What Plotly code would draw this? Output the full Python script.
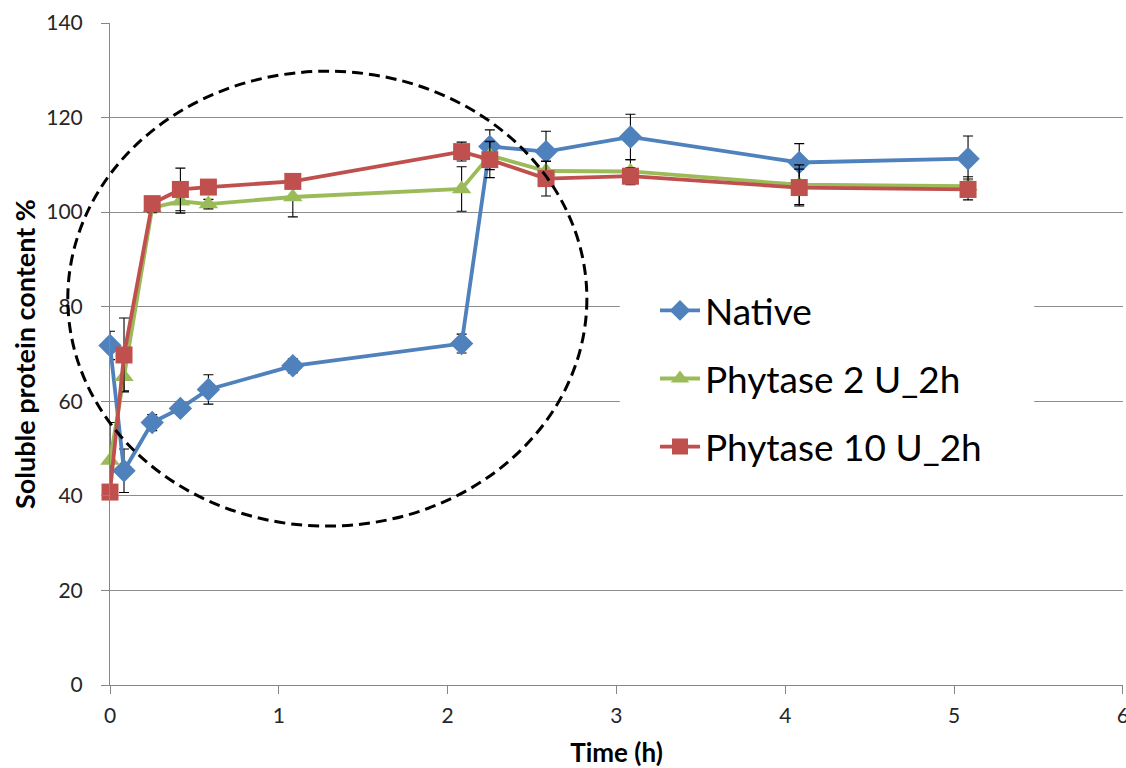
import plotly.graph_objects as go

time_h = [0, 0.083, 0.25, 0.417, 0.583, 1.083, 2.083, 2.25, 2.583, 3.083, 4.083, 5.083]

native = [71.8, 45.3, 55.5, 58.5, 62.5, 67.5, 72.2, 113.9, 112.8, 115.9, 110.5, 111.3]
native_err = [3.0, 4.6, 1.7, 1.0, 3.1, 1.5, 2.0, 3.5, 4.3, 4.8, 4.0, 4.8]

phy2 = [47.5, 65.2, 100.9, 102.3, 101.7, 103.2, 104.9, 112.0, 108.7, 108.6, 105.8, 105.5]
phy2_err = [8.0, 3.0, 1.0, 2.5, 1.0, 4.2, 4.7, 3.0, 2.0, 2.5, 4.2, 2.0]

phy10 = [40.8, 69.8, 101.8, 104.8, 105.3, 106.5, 112.8, 111.1, 107.1, 107.6, 105.2, 104.8]
phy10_err = [1.0, 7.8, 1.5, 4.5, 1.2, 1.5, 2.0, 3.8, 3.7, 1.8, 3.9, 2.2]

series_names = ["Native", "Phytase 2 U_2h", "Phytase 10 U_2h"]
series_colors = ["#4F81BD", "#9BBB59", "#C0504D"]
series_symbols = ["diamond", "triangle-up", "square"]
series_sizes = [18, 17, 17]

x_ticks = [0, 1, 2, 3, 4, 5, 6]
y_ticks = [0, 20, 40, 60, 80, 100, 120, 140]

# highlighted region (data units)
ellipse_x = [-0.25, 2.825]
ellipse_y = [33.6, 129.8]
# white backdrop behind the legend (data units)
legend_box_x = [3.02, 5.475]
legend_box_y = [44.0, 88.0]

x_range = [0, 6.001]
y_range = [0, 140]

fig = go.Figure()
for name, ys, errs, col, sym, sz in zip(series_names, [native, phy2, phy10],
                                        [native_err, phy2_err, phy10_err],
                                        series_colors, series_symbols, series_sizes):
    fig.add_trace(go.Scatter(
        x=time_h, y=ys, name=name, mode="lines+markers", legendgroup=name,
        line=dict(color=col, width=3.8),
        marker=dict(symbol=sym, size=sz, color=col),
        cliponaxis=False,
        error_y=dict(type="data", array=errs, visible=True, color="black",
                     thickness=1.1, width=5),
    ))

def to_paper_x(v):
    return (v - x_range[0]) / (x_range[1] - x_range[0])

def to_paper_y(v):
    return (v - y_range[0]) / (y_range[1] - y_range[0])

fig.add_shape(type="rect", xref="x", yref="y",
              x0=legend_box_x[0], x1=legend_box_x[1],
              y0=legend_box_y[0], y1=legend_box_y[1],
              fillcolor="white", line=dict(width=0), layer="between")

fig.add_shape(type="circle", xref="paper", yref="paper",
              x0=to_paper_x(ellipse_x[0]), x1=to_paper_x(ellipse_x[1]),
              y0=to_paper_y(ellipse_y[0]), y1=to_paper_y(ellipse_y[1]),
              line=dict(color="black", width=3, dash="11px,6px"), layer="above")

fig.update_layout(
    width=1126, height=768,
    margin=dict(l=110, r=3, t=23, b=83, autoexpand=False),
    paper_bgcolor="white", plot_bgcolor="white",
    font=dict(family="Lato, Open Sans, sans-serif", color="#262626"),
    showlegend=True,
    legend=dict(x=0.538, y=0.612, xanchor="left", yanchor="top",
                bgcolor="rgba(255,255,255,0)", font=dict(size=37, color="black"),
                tracegroupgap=17, itemwidth=40),
    xaxis=dict(range=x_range, tickvals=x_ticks, showgrid=False, showline=True,
               linecolor="#868686", linewidth=1, ticks="outside", ticklen=8,
               tickcolor="#868686", tickfont=dict(size=21, color="#262626"),
               ticklabelstandoff=4, ticklabeloverflow="allow",
               zeroline=False, automargin=False,
               title=dict(text="<b>Time (h)</b>", font=dict(size=26, color="black"),
                          standoff=27)),
    yaxis=dict(range=y_range, tickvals=y_ticks, showgrid=True, gridcolor="#8C8C8C",
               gridwidth=1, showline=True, linecolor="#868686", linewidth=1,
               ticks="outside", ticklen=8, tickcolor="#868686",
               tickfont=dict(size=21, color="#262626"), ticklabelstandoff=14,
               zeroline=False, automargin=False,
               title=dict(text="<b>Soluble protein content %</b>",
                          font=dict(size=27, color="black"), standoff=2)),
)

fig.write_html("out.html", config={"displayModeBar": False},
               post_script="document.body.style.margin='0';document.body.style.overflow='hidden';")
